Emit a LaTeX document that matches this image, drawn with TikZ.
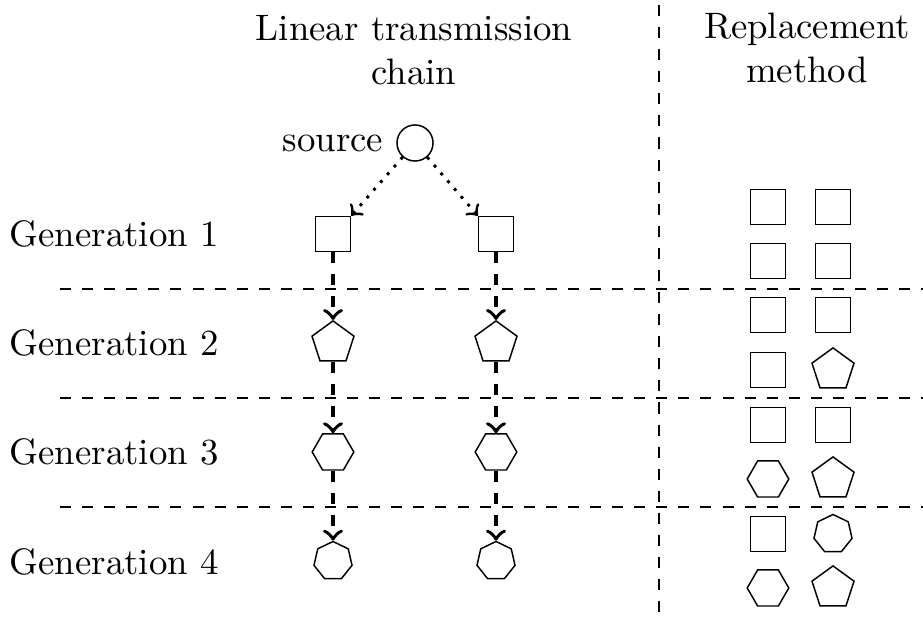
\documentclass[tikz,border=0pt]{standalone}
\usetikzlibrary{shapes.geometric}
\begin{document}
\begin{tikzpicture}[x=0.2717pt,y=-0.2717pt,
  sq/.style={draw,rectangle,minimum size=9.5pt,inner sep=0pt},
  pent/.style={draw,regular polygon,regular polygon sides=5,minimum size=12pt,inner sep=0pt},
  hexa/.style={draw,regular polygon,regular polygon sides=6,minimum size=11.3pt,inner sep=0pt},
  hept/.style={draw,regular polygon,regular polygon sides=7,minimum size=10.6pt,inner sep=0pt},
  srcnode/.style={draw,circle,minimum size=9.8pt,inner sep=0pt},
  genlabel/.style={anchor=base west,inner sep=0pt},
  sep/.style={dashed},
  chainarrow/.style={->,line width=1pt,dashed},
  seedarrow/.style={->,dotted,thick}]
\useasboundingbox (0,0) rectangle (923,621);
% titles
\node[align=center,anchor=base,inner sep=0pt] (t1) at (414,85) {Linear transmission\\chain};
\node[align=center,anchor=base,inner sep=0pt] (t2) at (807,83) {Replacement\\method};
% separators
\coordinate (v1) at (659,5);
\coordinate (v2) at (659,621);
\draw[sep] (v1) -- (v2);
\coordinate (h1a) at (60,289); \coordinate (h1b) at (923,289);
\coordinate (h2a) at (60,398); \coordinate (h2b) at (923,398);
\coordinate (h3a) at (60,507); \coordinate (h3b) at (923,507);
\draw[sep] (h1a) -- (h1b);
\draw[sep] (h2a) -- (h2b);
\draw[sep] (h3a) -- (h3b);
% generation labels
\node[genlabel] (g1) at (9,247) {Generation 1};
\node[genlabel] (g2) at (9,356) {Generation 2};
\node[genlabel] (g3) at (9,465) {Generation 3};
\node[genlabel] (g4) at (9,575) {Generation 4};
% chain
\node[srcnode] (src) at (415,143) {};
\node[anchor=east,inner sep=0pt] (srclabel) at (384,143) {source};
\node[sq] (a1) at (333,234) {};
\node[sq] (b1) at (496,234) {};
\node[pent] (a2) at (333,343) {};
\node[pent] (b2) at (496,343) {};
\node[hexa] (a3) at (333,452) {};
\node[hexa] (b3) at (496,452) {};
\node[hept] (a4) at (333,561) {};
\node[hept] (b4) at (496,561) {};
\draw[seedarrow] (src) -- (a1.north east);
\draw[seedarrow] (src) -- (b1.north west);
\draw[chainarrow] (a1) -- (a2);
\draw[chainarrow] (a2) -- (a3);
\draw[chainarrow] (a3) -- (a4);
\draw[chainarrow] (b1) -- (b2);
\draw[chainarrow] (b2) -- (b3);
\draw[chainarrow] (b3) -- (b4);
% replacement grid
\node[sq] (r11) at (768,207) {};
\node[sq] (r12) at (833,207) {};
\node[sq] (r21) at (768,261) {};
\node[sq] (r22) at (833,261) {};
\node[sq] (r31) at (768,315) {};
\node[sq] (r32) at (833,315) {};
\node[sq] (r41) at (768,370) {};
\node[pent] (r42) at (833,370) {};
\node[sq] (r51) at (768,425) {};
\node[sq] (r52) at (833,425) {};
\node[hexa] (r61) at (768,479) {};
\node[pent] (r62) at (833,479) {};
\node[sq] (r71) at (768,534) {};
\node[hept] (r72) at (833,534) {};
\node[hexa] (r81) at (768,588) {};
\node[pent] (r82) at (833,588) {};
\end{tikzpicture}
\end{document}
